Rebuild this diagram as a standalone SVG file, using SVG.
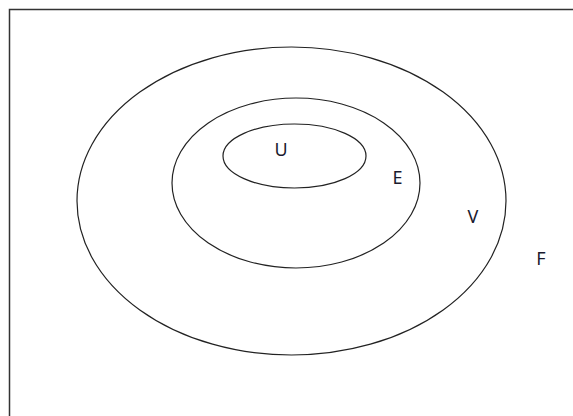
<svg xmlns="http://www.w3.org/2000/svg" width="573" height="416" viewBox="0 0 573 416">
<style>
.set{fill:none;stroke:#222;stroke-width:1.2}
.lbl{font-family:"Noto Sans","Open Sans",sans-serif;font-size:18px;fill:#1a1a2e;text-anchor:middle}
.frame{fill:none;stroke:#333;stroke-width:1.5}
</style>
<rect width="573" height="416" fill="#fff"/>
<path class="frame" d="M9.5,416 V9.5 H573"/>
<g id="F"><text class="lbl" x="541" y="265">F</text></g>
<g id="V"><ellipse class="set" cx="291.5" cy="201" rx="214.5" ry="154"/><text class="lbl" x="473" y="222.5">V</text></g>
<g id="E"><ellipse class="set" cx="296" cy="183" rx="124" ry="85"/><text class="lbl" x="397.5" y="184">E</text></g>
<g id="U"><ellipse class="set" cx="294.5" cy="156" rx="71.5" ry="32"/><text class="lbl" x="281" y="156">U</text></g>
<g id="connectors"/>
</svg>
